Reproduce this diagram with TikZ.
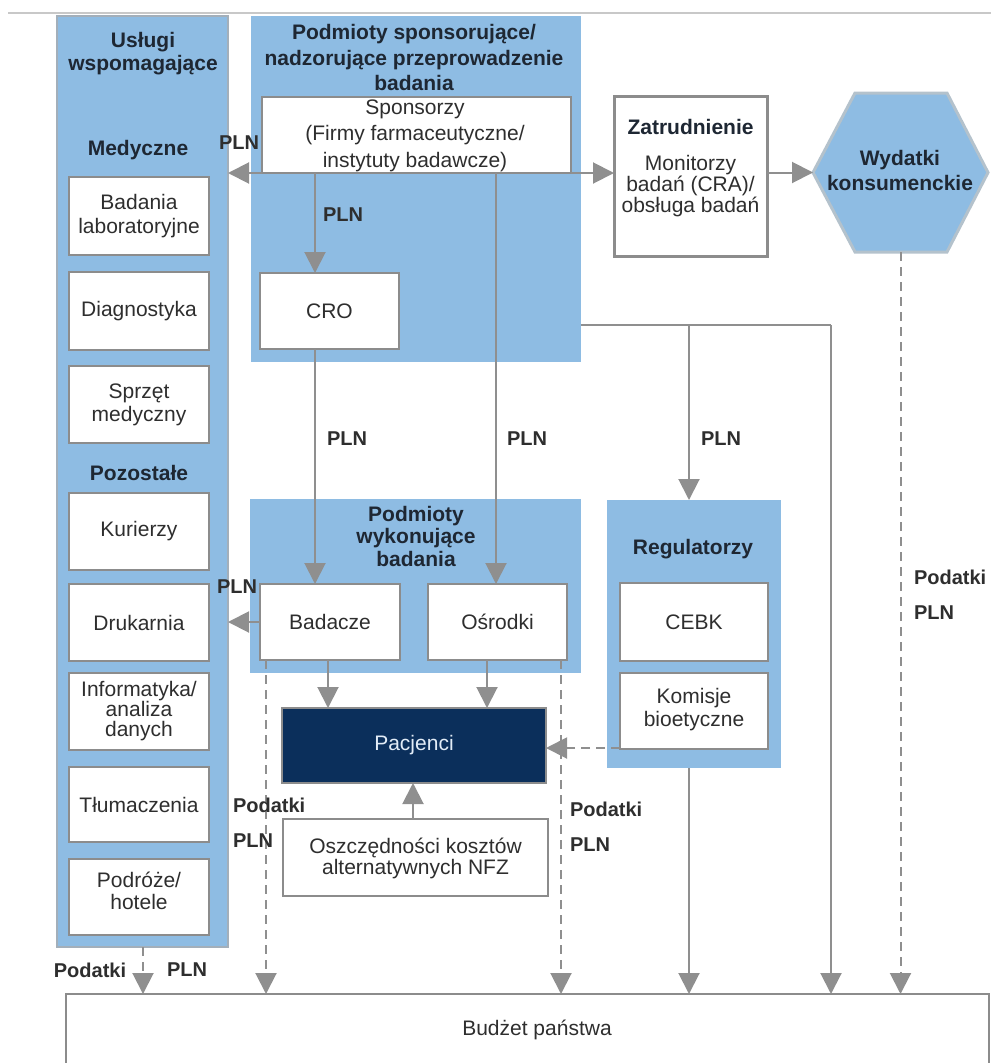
\documentclass[tikz,border=0pt]{standalone}
\usepackage{fontspec}
\setmainfont{Liberation Sans}
\usetikzlibrary{arrows.meta}
\definecolor{bluefill}{HTML}{8EBCE3}
\definecolor{boxline}{HTML}{8C8C8C}
\definecolor{conncol}{HTML}{8F8F8F}
\definecolor{navy}{HTML}{0B2F5B}
\definecolor{txtc}{HTML}{2E2E2E}
\definecolor{ttlc}{HTML}{1E2733}
\definecolor{grpline}{HTML}{A3AFBA}
\definecolor{hexline}{HTML}{B4C2CC}
\definecolor{topline}{HTML}{C8C8C8}
\definecolor{pactext}{HTML}{E2ECF7}
\begin{document}
\begin{tikzpicture}[x=1pt,y=-1pt,
  every node/.style={inner sep=0pt, outer sep=0pt, align=center, text=txtc, font=\fontsize{21}{23}\selectfont},
  grp/.style={fill=bluefill},
  wbox/.style={draw=boxline, line width=2.5pt, fill=white},
  lsp/.style={font=\fontsize{21}{#1}\selectfont},
  ttl/.style={text=ttlc, font=\fontsize{21}{#1}\selectfont\bfseries},
  ttl/.default=24,
  lab/.style={text=txtc, font=\fontsize{20}{22}\selectfont\bfseries},
  con/.style={draw=conncol, line width=2pt},
  arr/.style={con, -{Triangle[length=21pt,width=21pt]}},
  dsh/.style={dash pattern=on 9pt off 6pt}
]
\useasboundingbox (0,0) rectangle (991,1063);
\draw[topline, line width=1.5pt] (8,13) -- (991,13);

% ---------- left column ----------
\node[grp, draw=grpline, line width=1.5pt, minimum width=171, minimum height=931] (leftcol) at (142.5,481.5) {};
\node[ttl=23] (lefttitle) at (143,54) {Usługi\\wspomagające};
\node[ttl] (med) at (138,150) {Medyczne};
\node[wbox, minimum width=140, minimum height=78] (b1) at (139,216) {};
\node[lsp=24] at (b1.center) {Badania\\laboratoryjne};
\node[wbox, minimum width=140, minimum height=78] (b2) at (139,311) {Diagnostyka};
\node[wbox, minimum width=140, minimum height=77] (b3) at (139,404.5) {};
\node[lsp=23] at (b3.center) {Sprzęt\\medyczny};
\node[ttl] (poz) at (139,473) {Pozostałe};
\node[wbox, minimum width=140, minimum height=77] (b4) at (139,531.5) {Kurierzy};
\node[wbox, minimum width=140, minimum height=77] (b5) at (139,622.5) {Drukarnia};
\node[wbox, minimum width=140, minimum height=77] (b6) at (139,711.5) {};
\node[lsp=20] at (b6.center) {Informatyka/\\analiza\\danych};
\node[wbox, minimum width=140, minimum height=75] (b7) at (139,804.5) {Tłumaczenia};
\node[wbox, minimum width=140, minimum height=76] (b8) at (139,897) {};
\node[lsp=22] at (139,891) {Podróże/\\hotele};

% ---------- top middle group ----------
\node[grp, minimum width=330, minimum height=346] (topgrp) at (416,189) {};
\node[ttl=25.5] (toptitle) at (414,57.5) {Podmioty sponsorujące/\\nadzorujące przeprowadzenie\\badania};
\node[wbox, minimum width=309, minimum height=76] (spons) at (416.5,135) {};
\node[lsp=26.5] at (415,135.5) {Sponsorzy\\(Firmy farmaceutyczne/\\instytuty badawcze)};
\node[wbox, minimum width=139, minimum height=76] (cro) at (329.5,311) {CRO};

% ---------- employment ----------
\node[draw=boxline, line width=3pt, fill=white, minimum width=153, minimum height=160] (zatr) at (690.5,176) {};
\node[ttl] (zatrT) at (690.5,127) {Zatrudnienie};
\node[lsp=21] (zatrB) at (690.5,186) {Monitorzy\\badań (CRA)/\\obsługa badań};

% ---------- hexagon ----------
\node[minimum width=175, minimum height=159] (hex) at (900.5,172.5) {};
\draw[hexline, line width=3pt, fill=bluefill]
  (hex.west) -- (855,93) -- (947,93) -- (hex.east) -- (947,252) -- (855,252) -- cycle;
\node[ttl=25] (hexT) at (900,170) {Wydatki\\konsumenckie};

% ---------- lower middle group ----------
\node[grp, minimum width=331, minimum height=174] (lowgrp) at (415.5,586) {};
\node[ttl=22.5] (lowtitle) at (416,536) {Podmioty\\wykonujące\\badania};
\node[wbox, minimum width=140, minimum height=76] (badacze) at (330,622) {Badacze};
\node[wbox, minimum width=139, minimum height=76] (osrodki) at (497.5,622) {Ośrodki};

% ---------- regulators ----------
\node[grp, minimum width=174, minimum height=268] (reg) at (694,634) {};
\node[ttl] (regT) at (693,549) {Regulatorzy};
\node[wbox, minimum width=148, minimum height=78] (cebk) at (694,622) {CEBK};
\node[wbox, minimum width=148, minimum height=76] (kom) at (694,711) {};
\node[lsp=23] at (694,710) {Komisje\\bioetyczne};

% ---------- patients ----------
\node[draw=boxline, line width=2pt, fill=navy, minimum width=264, minimum height=75, text=pactext] (pac) at (414,745.5) {Pacjenci};
\node[wbox, minimum width=265, minimum height=77] (osz) at (415.5,857.5) {};
\node[lsp=21] at (415.5,858.5) {Oszczędności kosztów\\alternatywnych NFZ};

% ---------- budget ----------
\node[draw=boxline, line width=2pt, fill=white, minimum width=923, minimum height=72, anchor=north west] (bud) at (66,994) {};
\node (budT) at (537,1030) {Budżet państwa};

% ---------- helper coordinates ----------
\coordinate (xA) at (315,0);
\coordinate (xB) at (496,0);
\coordinate (xC) at (689,0);
\coordinate (xD) at (831,0);
\coordinate (xE) at (266,0);
\coordinate (xF) at (561,0);
\coordinate (xG) at (328,0);
\coordinate (xH) at (487,0);
\coordinate (xI) at (413,0);
\coordinate (xJ) at (143,0);
\coordinate (yA) at (0,325);
\coordinate (yK) at (0,748);

% ---------- connectors ----------
\draw[arr] (spons.south west) -- (spons.south west -| leftcol.east);
\draw[arr] (spons.south east) -- (spons.south east -| zatr.west);
\draw[arr] (spons.south -| xA) -- (cro.north -| xA);
\draw[arr] (cro.south -| xA) -- (badacze.north -| xA);
\draw[arr] (spons.south -| xB) -- (osrodki.north -| xB);
\draw[con] (topgrp.east |- yA) -- (xD |- yA);
\draw[arr] (xD |- yA) -- (bud.north -| xD);
\draw[arr] (xC |- yA) -- (reg.north -| xC);
\draw[arr] (reg.south -| xC) -- (bud.north -| xC);
\draw[arr] (hex.west -| zatr.east) -- (hex.west);
\draw[arr,dsh] (hex.south) -- (bud.north -| hex.south);
\draw[arr] (badacze.west) -- (badacze.west -| leftcol.east);
\draw[arr,dsh] (badacze.south -| xE) -- (bud.north -| xE);
\draw[arr] (badacze.south -| xG) -- (pac.north -| xG);
\draw[arr] (osrodki.south -| xH) -- (pac.north -| xH);
\draw[arr,dsh] (osrodki.south -| xF) -- (bud.north -| xF);
\draw[arr,dsh] (kom.west |- yK) -- (pac.east |- yK);
\draw[arr] (osz.north -| xI) -- (pac.south -| xI);
\draw[arr,dsh] (leftcol.south -| xJ) -- (bud.north -| xJ);

% ---------- labels ----------
\node[lab] (l1) at (239,143) {PLN};
\node[lab] (l2) at (343,215) {PLN};
\node[lab] (l3) at (347,439) {PLN};
\node[lab] (l4) at (527,439) {PLN};
\node[lab] (l5) at (721,439) {PLN};
\node[lab] (l6) at (237,587) {PLN};
\node[lab, anchor=west] (l7) at (914,577) {Podatki};
\node[lab, anchor=west] (l8) at (914,613) {PLN};
\node[lab, anchor=west] (l9) at (233,805) {Podatki};
\node[lab, anchor=west] (l10) at (233,841) {PLN};
\node[lab, anchor=west] (l11) at (570,809) {Podatki};
\node[lab, anchor=west] (l12) at (570,845) {PLN};
\node[lab] (l13) at (90,970) {Podatki};
\node[lab] (l14) at (187,970) {PLN};
\end{tikzpicture}
\end{document}
